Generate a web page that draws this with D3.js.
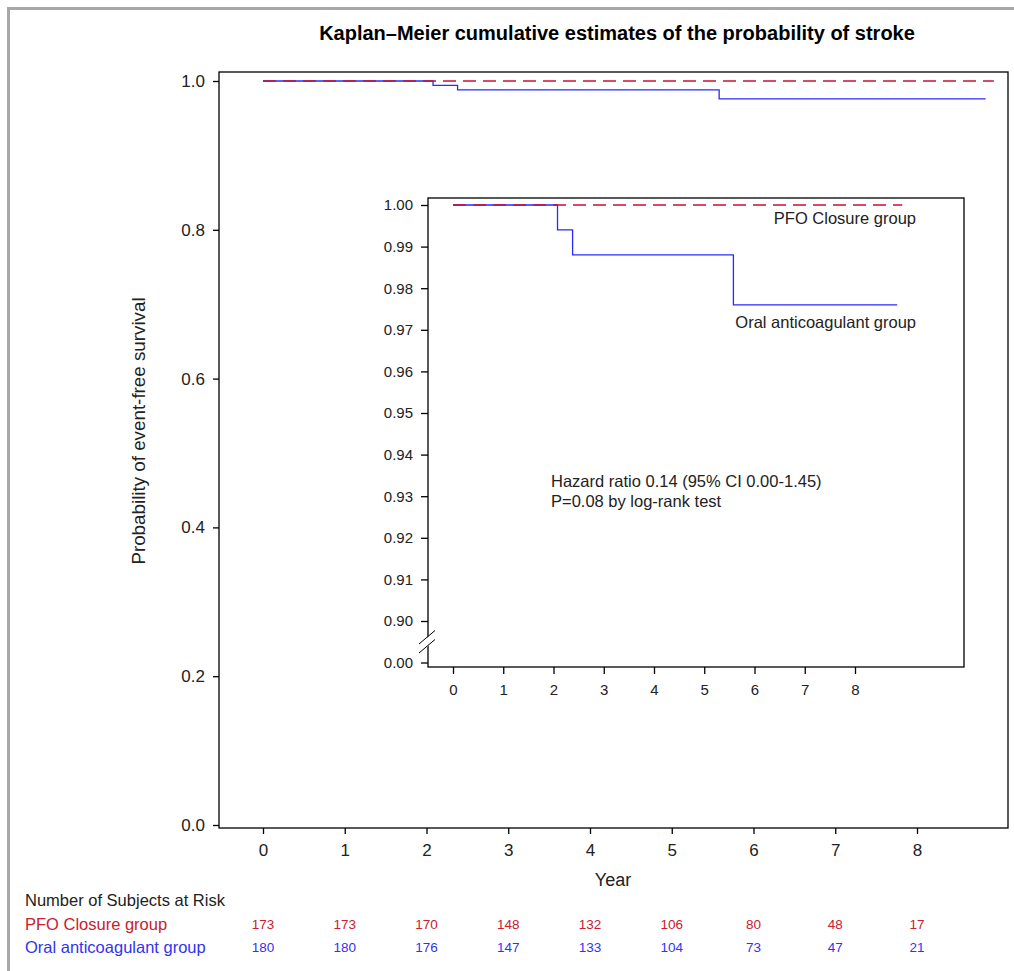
<!DOCTYPE html>
<html>
<head>
<meta charset="utf-8">
<script src="https://cdn.jsdelivr.net/npm/d3@7"></script>
<style>
  html, body { margin: 0; padding: 0; background: #fff; }
  svg { display: block; font-family: "Liberation Sans", Arial, sans-serif; }
</style>
</head>
<body>
<svg id="chart" width="1014" height="971"></svg>
<script>
// ---- data ----
const title = "Kaplan\u2013Meier cumulative estimates of the probability of stroke";
const yTitle = "Probability of event-free survival";
const xTitle = "Year";
const years = [0, 1, 2, 3, 4, 5, 6, 7, 8];
const mainYTicks = [0.0, 0.2, 0.4, 0.6, 0.8, 1.0];
const insetYTicks = [0.00, 0.90, 0.91, 0.92, 0.93, 0.94, 0.95, 0.96, 0.97, 0.98, 0.99, 1.00];
// step functions: event times and survival after each step
const pfoTimes = [0, 8.94];
const pfoSurv = [1.0, 1.0];
const oacTimes = [0, 2.08, 2.38, 5.58, 8.84];
const oacSurv = [1.0, 0.994, 0.988, 0.976, 0.976];
const groups = ["PFO Closure group", "Oral anticoagulant group"];
const riskPFO = [173, 173, 170, 148, 132, 106, 80, 48, 17];
const riskOAC = [180, 180, 176, 147, 133, 104, 73, 47, 21];
const annotation = ["Hazard ratio 0.14 (95% CI 0.00-1.45)", "P=0.08 by log-rank test"];

const RED = "#c8102e", BLUE = "#2a2aff", RED_TXT = "#c8202e", BLUE_TXT = "#3333ee";

const svg = d3.select("#chart");

// outer grey frame
svg.append("line").attr("x1", 7).attr("x2", 1014).attr("y1", 8.5).attr("y2", 8.5)
  .attr("stroke", "#a8a8a8").attr("stroke-width", 3);
svg.append("line").attr("x1", 8.5).attr("x2", 8.5).attr("y1", 7).attr("y2", 971)
  .attr("stroke", "#a8a8a8").attr("stroke-width", 3);

// title
svg.append("text").attr("x", 617).attr("y", 33).attr("dy", "0.35em")
  .attr("text-anchor", "middle").attr("font-weight", "bold").attr("font-size", 20)
  .text(title);

// ---- main plot ----
const M = { left: 219, right: 1008, top: 72, bottom: 828 };
const x = d3.scaleLinear().domain([0, 8]).range([263, 917]);
const y = d3.scaleLinear().domain([0, 1]).range([825, 81]);

function stepPoints(times, surv) {
  const pts = [];
  for (let i = 0; i < times.length; i++) {
    if (i > 0) pts.push([times[i], surv[i - 1]]);
    pts.push([times[i], surv[i]]);
  }
  return pts;
}

const gMain = svg.append("g");
const lineMain = d3.line().x(d => x(d[0])).y(d => y(d[1]));
gMain.append("path").attr("d", lineMain(stepPoints(oacTimes, oacSurv)))
  .attr("fill", "none").attr("stroke", BLUE).attr("stroke-width", 1.3);
gMain.append("path").attr("d", lineMain(stepPoints(pfoTimes, pfoSurv)))
  .attr("fill", "none").attr("stroke", RED).attr("stroke-width", 1.3)
  .attr("stroke-dasharray", "13,7");

gMain.append("rect").attr("x", M.left).attr("y", M.top)
  .attr("width", M.right - M.left).attr("height", M.bottom - M.top)
  .attr("fill", "none").attr("stroke", "#000").attr("stroke-width", 1.3);

const yAxis = gMain.append("g").attr("transform", `translate(${M.left},0)`)
  .call(d3.axisLeft(y).tickValues(mainYTicks).tickFormat(d3.format(".1f")).tickSize(6).tickPadding(8));
yAxis.select(".domain").remove();
yAxis.selectAll("text").attr("font-size", 17).attr("font-family", null).attr("fill", "#222");
yAxis.selectAll("line").attr("stroke-width", 1.3);

const xAxis = gMain.append("g").attr("transform", `translate(0,${M.bottom})`)
  .call(d3.axisBottom(x).tickValues(years).tickFormat(d3.format("d")).tickSize(6).tickPadding(10));
xAxis.select(".domain").remove();
xAxis.selectAll("text").attr("font-size", 17).attr("font-family", null).attr("fill", "#222");
xAxis.selectAll("line").attr("stroke-width", 1.3);

svg.append("text").attr("x", 613).attr("y", 880).attr("dy", "0.35em")
  .attr("text-anchor", "middle").attr("font-size", 18).attr("fill", "#222").text(xTitle);

svg.append("text").attr("transform", "translate(138,431) rotate(-90)").attr("dy", "0.35em")
  .attr("text-anchor", "middle").attr("font-size", 18.8).attr("fill", "#222").text(yTitle);

// ---- inset ----
const I = { left: 428, right: 964, top: 198, bottom: 667 };
const ix = d3.scaleLinear().domain([0, 8]).range([453, 855]);
const iy = d3.scaleLinear().domain([0, 0.90, 1.00]).range([662.5, 621, 205]);
const gIn = svg.append("g");
gIn.append("rect").attr("x", I.left).attr("y", I.top)
  .attr("width", I.right - I.left).attr("height", I.bottom - I.top)
  .attr("fill", "#fff").attr("stroke", "#000").attr("stroke-width", 1.3);

const lineIn = d3.line().x(d => ix(d[0])).y(d => iy(d[1]));
gIn.append("path").attr("d", lineIn(stepPoints(oacTimes, oacSurv)))
  .attr("fill", "none").attr("stroke", BLUE).attr("stroke-width", 1.3);
gIn.append("path").attr("d", lineIn(stepPoints(pfoTimes, pfoSurv)))
  .attr("fill", "none").attr("stroke", RED).attr("stroke-width", 1.3)
  .attr("stroke-dasharray", "13,7");

const iyAxis = gIn.append("g").attr("transform", `translate(${I.left},0)`)
  .call(d3.axisLeft(iy).tickValues(insetYTicks).tickFormat(d3.format(".2f")).tickSize(7).tickPadding(8));
iyAxis.select(".domain").remove();
iyAxis.selectAll("text").attr("font-size", 15).attr("font-family", null).attr("fill", "#222");
iyAxis.selectAll("line").attr("stroke-width", 1.3);

const ixAxis = gIn.append("g").attr("transform", `translate(0,${I.bottom})`)
  .call(d3.axisBottom(ix).tickValues(years).tickFormat(d3.format("d")).tickSize(7).tickPadding(10));
ixAxis.select(".domain").remove();
ixAxis.selectAll("text").attr("font-size", 15).attr("font-family", null).attr("fill", "#222");
ixAxis.selectAll("line").attr("stroke-width", 1.3);

// axis break marks
const brk = gIn.append("g");
brk.append("polygon").attr("points", "420,644 435,631 435,640 420,653").attr("fill", "#fff");
brk.append("line").attr("x1", 419).attr("y1", 644).attr("x2", 435).attr("y2", 630.5)
  .attr("stroke", "#000").attr("stroke-width", 1);
brk.append("line").attr("x1", 419).attr("y1", 653).attr("x2", 435).attr("y2", 639.5)
  .attr("stroke", "#000").attr("stroke-width", 1);

// inset labels
gIn.append("text").attr("x", 916).attr("y", 218).attr("dy", "0.35em")
  .attr("text-anchor", "end").attr("font-size", 16.5).attr("fill", "#222").text(groups[0]);
gIn.append("text").attr("x", 916).attr("y", 322).attr("dy", "0.35em")
  .attr("text-anchor", "end").attr("font-size", 16.5).attr("fill", "#222").text(groups[1]);
annotation.forEach((t, i) => {
  gIn.append("text").attr("x", 551).attr("y", 481 + i * 20).attr("dy", "0.35em")
    .attr("font-size", 16.5).attr("fill", "#222").text(t);
});

// ---- risk table ----
const gT = svg.append("g");
gT.append("text").attr("x", 25).attr("y", 900).attr("dy", "0.35em")
  .attr("font-size", 16.5).attr("fill", "#222").text("Number of Subjects at Risk");
const rows = [
  { label: groups[0], vals: riskPFO, color: RED_TXT, yc: 924 },
  { label: groups[1], vals: riskOAC, color: BLUE_TXT, yc: 947 }
];
rows.forEach(r => {
  gT.append("text").attr("x", 25).attr("y", r.yc).attr("dy", "0.35em")
    .attr("font-size", 16.5).attr("fill", r.color).text(r.label);
  gT.selectAll(null).data(r.vals).enter().append("text")
    .attr("x", (d, i) => x(years[i])).attr("y", r.yc).attr("dy", "0.35em")
    .attr("text-anchor", "middle").attr("font-size", 13.5).attr("fill", r.color)
    .text(d => d);
});
</script>
</body>
</html>
